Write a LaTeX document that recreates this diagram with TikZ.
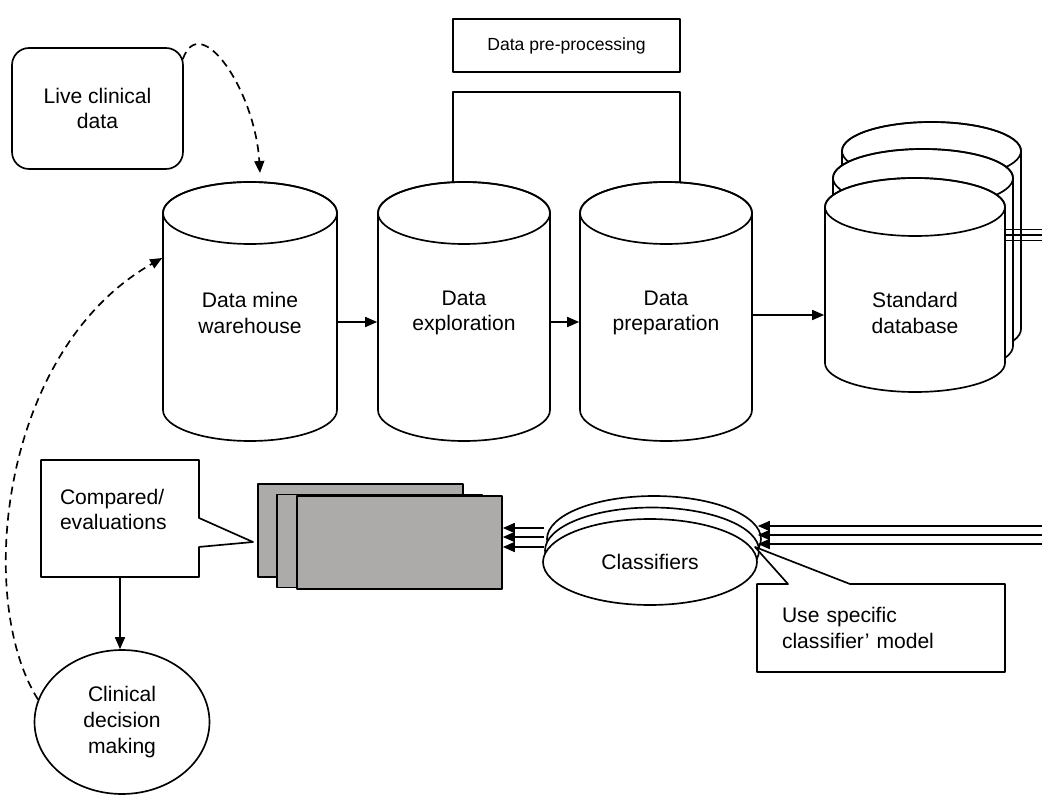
\documentclass[tikz,border=0pt]{standalone}
\usepackage{fontspec}
\setmainfont{Liberation Sans}
\usetikzlibrary{arrows.meta,shapes.geometric,shapes.callouts}
\definecolor{slabgray}{HTML}{ADAAAA}
\newcommand{\dbdrum}[5]{%
  \draw[fill=white] ({#1-#4},{-(#2+#5)}) -- ({#1-#4},{-(#3-#5)})
    arc[start angle=180,end angle=360,x radius={#4*0.02cm},y radius={#5*0.02cm}]
    -- ({#1+#4},{-(#2+#5)})
    arc[start angle=0,end angle=180,x radius={#4*0.02cm},y radius={#5*0.02cm}] -- cycle;
  \draw ({#1},{-(#2+#5)}) ellipse [x radius={#4*0.02cm},y radius={#5*0.02cm}];
}
\tikzset{
  cyltext/.style={align=center,minimum width=3.44cm,inner sep=0pt},
  arr/.style={-{Triangle[length=0.24cm,width=0.2cm]}},
  dasharr/.style={arr,dash pattern=on 4.5pt off 3pt},
  slab/.style={draw,fill=slabgray,minimum width=4.1cm,minimum height=1.86cm,inner sep=0pt},
  clfdisc/.style={draw,fill=white,ellipse,minimum width=4.28cm,minimum height=1.72cm,inner sep=0pt},
  notebox/.style={draw,fill=white,rectangle callout,align=left},
}
\begin{document}
\begin{tikzpicture}[x=0.02cm,y=0.02cm,line width=0.95pt,line join=round,font=\fontsize{12}{14.7}\selectfont]
  \useasboundingbox (0,0) rectangle (1042,-797);

  \dbdrum{250}{182}{441}{87}{31}
  \dbdrum{464}{182}{441}{86}{31}
  \dbdrum{666}{182}{441}{86}{31}
  \dbdrum{931.5}{122}{358}{89.5}{29}
  \dbdrum{923}{149}{375}{90}{29}
  \dbdrum{915}{178}{392}{90}{29}

  \node[cyltext,minimum width=3.48cm] (wh) at (250,-313) {Data mine\\warehouse};
  \node[cyltext] (expl) at (464,-313) {Data\\exploration};
  \node[cyltext] (prep) at (666,-313) {Data\\preparation};
  \node[cyltext,minimum width=3.6cm] (sdb) at (915,-313) {Standard\\database};

  \node[draw,minimum width=4.54cm,minimum height=1.06cm,font=\fontsize{10}{12}\selectfont] (pre) at (566.5,-45.5) {Data pre-processing};
  \coordinate (exptop) at (453,-182);
  \coordinate (preptop) at (680,-182);
  \coordinate (brk) at (566,-92);
  \draw (exptop) -- (exptop |- brk) -| (preptop);

  \node[draw,rounded corners=0.34cm,minimum width=3.42cm,minimum height=2.42cm,align=center] (lcd) at (97.5,-108.5) {Live clinical\\data};
  \coordinate (whtop) at (260,-173);
  \draw[dasharr] ([xshift=-0.02cm,yshift=-0.24cm]lcd.north east) .. controls (200,-10) and (255,-90) .. (whtop);

  \draw[arr] ([yshift=-0.18cm]wh.east) -- ([yshift=-0.18cm]expl.west);
  \draw[arr] ([yshift=-0.18cm]expl.east) -- ([yshift=-0.18cm]prep.west);
  \draw[arr] ([yshift=-0.04cm]prep.east) -- ([yshift=-0.04cm]sdb.west);
  \foreach \k/\yy in {1/229.5,2/235,3/240.5} {
    \coordinate (out\k) at (1042,-\yy);
    \draw (sdb.east |- out\k) -- (out\k);
  }

  \node[slab] (slab3) at (360.5,-530.5) {};
  \node[slab] (slab2) at (379.5,-541) {};
  \node[slab] (slab1) at (399.5,-542.5) {};

  \node[clfdisc] (clf3) at (654,-539) {};
  \node[clfdisc] (clf2) at (652,-550.5) {};
  \node[clfdisc] (clf) at (650,-562) {Classifiers};
  \foreach \k/\yy in {1/526,2/535,3/544} {
    \coordinate (in\k) at (1042,-\yy);
    \draw[arr] (in\k) -- (clf.east |- in\k);
  }
  \foreach \k/\yy in {1/528,2/537,3/547} {
    \coordinate (to\k) at (548,-\yy);
    \draw[arr] (clf2.west |- to\k) -- (slab1.east |- to\k);
  }

  \node[notebox,text width=2.4cm,minimum width=3.16cm,minimum height=2.34cm,callout absolute pointer={(253,-542)},callout pointer width=0.58cm] (cmp) at (120,-518.5) {Compared/\\evaluations\\[-0.15cm]\mbox{}};
  \node[notebox,text width=3.96cm,minimum width=4.96cm,minimum height=1.76cm,callout absolute pointer={(755,-547)},callout pointer width=1.24cm] (usm) at (881,-628) {Use specific\\classifier’ model};

  \node[draw,ellipse,minimum width=3.5cm,minimum height=2.88cm,align=center,inner sep=0pt] (cdm) at (122,-722) {Clinical\\decision\\making};
  \draw[arr] (cmp.south) -- (cmp.south |- cdm.north);
  \draw[dasharr] (cdm.165) .. controls (-25,-600) and (0,-350) .. ([yshift=1.1cm]wh.west);
\end{tikzpicture}
\end{document}
